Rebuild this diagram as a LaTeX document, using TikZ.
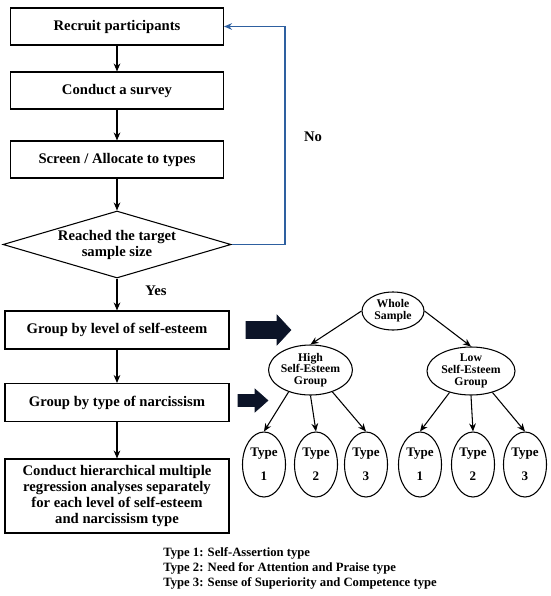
\documentclass[tikz,border=0pt]{standalone}
\usepackage{fontspec}
\setmainfont{Liberation Serif}
\usetikzlibrary{shapes.geometric,arrows.meta}
\definecolor{linkblue}{RGB}{46,96,160}
\definecolor{fatnavy}{RGB}{12,20,40}
\begin{document}
\begin{tikzpicture}[x=0.75pt,y=-0.75pt,
  box/.style={draw, line width=0.8pt, minimum width=159.75pt, minimum height=27.75pt, inner sep=0pt, align=center, font=\fontsize{11}{12}\selectfont\bfseries},
  wbox/.style={box, minimum width=168pt, minimum height=28.5pt},
  dec/.style={draw, diamond, line width=0.8pt, aspect=3.4, minimum width=171pt, minimum height=50.25pt, inner sep=0pt, align=center, font=\fontsize{11}{12}\selectfont\bfseries},
  flow/.style={-{Stealth[length=6pt,width=5pt]}, line width=0.8pt},
  bflow/.style={-{Stealth[length=6pt,width=5pt]}, line width=0.9pt, draw=linkblue, color=linkblue},
  grp/.style={draw, ellipse, line width=0.8pt, inner sep=0pt, align=center, font=\fontsize{8.8}{8.8}\selectfont\bfseries},
  typ/.style={draw, ellipse, line width=0.8pt, inner sep=0pt, minimum width=32.25pt, minimum height=48.75pt, align=center, font=\fontsize{9.8}{18}\selectfont\bfseries},
  lbl/.style={inner sep=0pt, font=\fontsize{11}{12}\selectfont\bfseries},
  fat/.style={fill=fatnavy, draw=fatnavy, line width=0.4pt}
]
\useasboundingbox (0,0) rectangle (550,596);

% left flow
\node[box] (recruit) at (117,26.5) {Recruit participants};
\node[box] (survey) at (117,90.5) {Conduct a survey};
\node[box] (screen) at (117,159.5) {Screen / Allocate to types};
\node[dec] (reach) at (117,244.5) {Reached the target\\sample size};
\node[wbox] (grpse) at (117,330) {Group by level of self-esteem};
\node[wbox] (grpn) at (117,402.5) {Group by type of narcissism};
\node[wbox, minimum height=55.5pt] (reg) at (117,496) {Conduct hierarchical multiple\\regression analyses separately\\for each level of self-esteem\\and narcissism type};

\draw[flow] (recruit) -- (survey);
\draw[flow] (survey) -- (screen);
\draw[flow] (screen) -- (reach);
\draw[flow] (reach) -- (grpse);
\draw[flow] (grpse) -- (grpn);
\draw[flow] (grpn) -- (reg);

\coordinate (nocorner) at (285,244.5);
\draw[bflow] (reach.east) -- (nocorner) |- (recruit.east);
\node[lbl] (nolab) at (313,137) {No};
\node[lbl] (yeslab) at (156,291) {Yes};

% fat arrows
\fill[fat] (246,321.5) -- (277,321.5) -- (277,315) -- (291,330) -- (277,345) -- (277,338.5) -- (246,338.5) -- cycle;
\fill[fat] (238,394.5) -- (255,394.5) -- (255,389) -- (268,400.5) -- (255,412) -- (255,406.5) -- (238,406.5) -- cycle;

% tree
\node[grp, minimum width=46.5pt, minimum height=28.5pt] (whole) at (393,311) {Whole\\Sample};
\node[grp, minimum width=59.25pt, minimum height=37.5pt] (high) at (310.5,370) {High\\Self-Esteem\\Group};
\node[grp, minimum width=66pt, minimum height=36pt] (low) at (471,371) {Low\\Self-Esteem\\Group};

\node[typ] (h1) at (264,464.5) {Type\\1};
\node[typ] (h2) at (316,464.5) {Type\\2};
\node[typ] (h3) at (366,464.5) {Type\\3};
\node[typ] (l1) at (420,464.5) {Type\\1};
\node[typ] (l2) at (473,464.5) {Type\\2};
\node[typ] (l3) at (525,464.5) {Type\\3};

\draw[flow] (whole.west) -- (high.north);
\draw[flow] (whole.east) -- (low.north);
\draw[flow] (high.225) -- (h1.north);
\draw[flow] (high.south) -- (h2.north);
\draw[flow] (high.315) -- (h3.north);
\draw[flow] (low.225) -- (l1.north);
\draw[flow] (low.south) -- (l2.north);
\draw[flow] (low.315) -- (l3.north);

% legend
\node[anchor=north west, inner sep=0pt, align=left, font=\fontsize{9.5}{11.5}\selectfont\bfseries] (legend) at (163,547) {Type 1: Self-Assertion type\\Type 2: Need for Attention and Praise type\\Type 3: Sense of Superiority and Competence type};
\end{tikzpicture}
\end{document}
